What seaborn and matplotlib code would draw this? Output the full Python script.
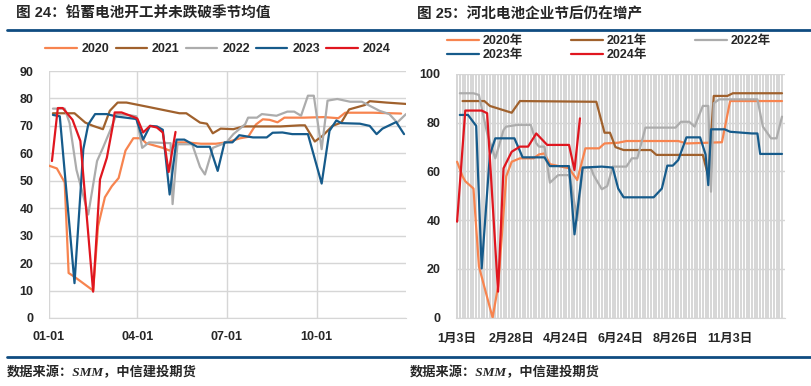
import numpy as np
import pandas as pd
import matplotlib.pyplot as plt
import seaborn as sns
from matplotlib.lines import Line2D

sns.set_style('white')
plt.rcParams['font.family'] = ['Liberation Sans', 'Noto Sans CJK SC', 'DejaVu Sans']
plt.rcParams['axes.unicode_minus'] = False

# ---- left chart: day of year vs operating rate (%) ----
day_2020 = [0, 8, 16, 20, 26, 45, 50, 57, 64, 71, 78, 86, 94, 99, 106, 116, 123, 131, 140, 155,
            170, 181, 195, 203, 211, 218, 225, 233, 240, 260, 280, 295, 302, 330, 359]
rate_2020 = [55.5, 54.5, 49.4, 16.4, 15, 10, 33.4, 44, 48, 51, 61, 65.5, 65.5, 63.7, 63, 62, 61, 64, 64, 63.5,
             63.5, 64, 65.5, 66, 70.5, 72.4, 72.2, 71.3, 73, 73, 73.2, 72.8, 74.8, 74.8, 74.5]

day_2021 = [4, 26, 37, 45, 55, 62, 70, 79, 100, 133, 140, 154, 161, 167, 175, 188, 198, 236, 256, 261,
            271, 279, 289, 298, 306, 322, 327, 344, 364]
rate_2021 = [74.6, 74.6, 71.2, 70, 68.8, 75.5, 78.5, 78.5, 77, 74.6, 74.6, 71.2, 70.8, 67.3, 69, 68.8, 69.8, 69.8, 70.2, 70.2,
             64.3, 66.4, 70, 71.2, 76, 77.6, 79, 78.5, 78]

day_2022 = [4, 16, 21, 28, 40, 49, 55, 62, 69, 80, 89, 95, 102, 124, 126, 131, 146, 154, 159, 167,
            181, 188, 200, 203, 212, 217, 232, 243, 250, 257, 264, 270, 278, 284, 294, 307, 319, 337, 347, 355, 364]
rate_2022 = [76.3, 76.3, 71, 54, 37.7, 57.2, 62, 68, 74.3, 74, 73.5, 62, 64, 63.7, 41.5, 63.3, 63.3, 55, 52.3, 62,
             64, 67, 70.6, 73, 73, 74.3, 73.7, 75.2, 75.2, 73.7, 81, 81, 61.5, 79.2, 79.8, 78.8, 78.8, 75.5, 74.3, 71.2, 74.3]

day_2023 = [4, 11, 26, 35, 40, 47, 59, 69, 85, 89, 96, 103, 110, 116, 123, 130, 138, 151, 164, 172,
            179, 187, 194, 208, 222, 228, 238, 248, 264, 278, 286, 293, 298, 317, 327, 334, 340, 354, 362]
rate_2023 = [74, 73.5, 12.7, 61.5, 70.5, 74.3, 74.3, 73.4, 72.7, 72.5, 65, 70, 69.8, 68.6, 45, 65, 65, 62.4, 62.4, 53.6,
             64, 64, 66.6, 65.8, 65.8, 67.5, 67.6, 67, 67, 49, 68.2, 72, 71, 70.8, 70, 67, 69, 71.4, 67]

day_2024 = [3, 9, 14, 24, 32, 45, 52, 59, 65, 67, 74, 83, 90, 96, 103, 110, 116, 122, 129]
rate_2024 = [57.2, 76.5, 76.5, 72.2, 64.5, 9.6, 50.5, 58.4, 70, 74.9, 74.9, 73.7, 72.7, 67.6, 70, 69.4, 67.6, 53.2, 67.8]

left_years = ['2020', '2021', '2022', '2023', '2024']
left_tick_days = [0, 90, 181, 273]
left_tick_labels = ['01-01', '04-01', '07-01', '10-01']

# ---- right chart: category index vs value ----
idx_2020 = [0, 2, 3, 6, 8, 13, 15, 18, 20, 23, 28, 30, 32, 34, 41, 44, 47, 52, 54, 59, 62, 81, 84, 97, 100, 119]
val_2020 = [64, 58, 56, 53, 21, 0, 12.7, 58, 64, 65.4, 65.4, 67, 67.4, 63, 61.3, 56.5, 69.5, 69.5, 71.5, 71.8,
            72.5, 72.5, 71.5, 72, 88.9, 88.9]

idx_2021 = [2, 10, 12, 20, 23, 51, 54, 56, 58, 61, 71, 73, 90, 92, 94, 99, 101, 119]
val_2021 = [88.9, 88.9, 86.9, 84.1, 88.9, 88.6, 75.9, 75.9, 70, 68.8, 68.8, 66.8, 66.8, 58, 91, 91, 92.1, 92.1]

idx_2022 = [1, 6, 8, 11, 14, 17, 18, 22, 27, 29, 30, 32, 34, 37, 41, 42, 44, 46, 49, 50,
            53, 55, 57, 62, 64, 66, 69, 80, 82, 85, 87, 90, 92, 93, 94, 96, 110, 112, 115, 117, 119]
val_2022 = [92.1, 92.1, 91.4, 75.7, 65.4, 77, 78.4, 79.1, 79.1, 71.6, 70.2, 70.2, 55.4, 58.5, 58.5, 53.7, 40, 61.6, 61.6, 58.5,
            52.7, 54, 62, 62, 65.4, 65.4, 78, 78, 80.4, 80.4, 78.4, 86.9, 86.9, 51.7, 88, 89.6, 89.6, 78.4, 73.6, 73.6, 82.5]

idx_2023 = [1, 4, 7, 9, 12, 14, 21, 24, 32, 34, 41, 43, 46, 53, 57, 59, 61, 72, 75, 77,
            79, 81, 84, 89, 91, 92, 93, 98, 100, 108, 110, 111, 119]
val_2023 = [83.2, 83.2, 78.7, 20.2, 66.8, 73.6, 73.6, 65.8, 65.8, 62.2, 62.2, 34.2, 61.6, 62, 61.6, 53, 49.4, 49.4, 53, 62.4,
            62.4, 64.7, 74, 74, 67, 54.4, 77.3, 77.3, 76.3, 75.6, 75.6, 67.2, 67.2]

idx_2024 = [0, 3, 9, 11, 15, 17, 20, 23, 26, 29, 33, 41, 43, 45]
val_2024 = [39.4, 85, 85, 83.9, 10.7, 61.3, 68.1, 70.2, 70.2, 75.6, 70.9, 70.9, 60.6, 81.8]

right_years = ['2020年', '2021年', '2022年', '2023年', '2024年']
right_tick_labels = ['1月3日', '2月28日', '4月24日', '6月24日', '8月26日', '11月3日']
n_categories = 120
label_step = 20

colors = ['#f7844f', '#a0612d', '#acacac', '#165b8b', '#e0161f']
grid_color = '#d6d6d6'
header_blue = '#0f4c81'

fig = plt.figure(figsize=(8.12, 3.86), dpi=100)

# ---------------- left panel ----------------
ax1 = fig.add_axes([49 / 812, 68 / 386, 357 / 812, 247 / 386])
left_x = [day_2020, day_2021, day_2022, day_2023, day_2024]
left_y = [rate_2020, rate_2021, rate_2022, rate_2023, rate_2024]
for x, y, c, lab in zip(left_x, left_y, colors, left_years):
    sns.lineplot(x=x, y=y, ax=ax1, color=c, linewidth=1.6, label=lab,
                 estimator=None, errorbar=None, sort=False)

ax1.set_xlim(0, 364)
ax1.set_ylim(0, 90)
ax1.set_yticks(range(0, 91, 10))
ax1.set_xticks(left_tick_days)
ax1.set_xticklabels(left_tick_labels)
ax1.grid(True, axis='both', color=grid_color, linewidth=1.0)
for s in ['top', 'right', 'left']:
    ax1.spines[s].set_visible(False)
ax1.spines['bottom'].set_color(grid_color)
ax1.tick_params(axis='y', length=0, pad=11, labelsize=9)
ax1.tick_params(axis='x', length=4, color=grid_color, pad=5, labelsize=9)
for t in ax1.get_xticklabels() + ax1.get_yticklabels():
    t.set_fontweight('bold')
ax1.legend(loc='center', bbox_to_anchor=(218 / 812, 1 - 49 / 386), bbox_transform=fig.transFigure,
           ncol=5, frameon=False, handlelength=2.5, handletextpad=0.4, columnspacing=0.5,
           prop={'weight': 'bold', 'size': 9})

# ---------------- right panel ----------------
ax2 = fig.add_axes([456 / 812, 68.3 / 386, 329 / 812, 243.7 / 386])
right_x = [idx_2020, idx_2021, idx_2022, idx_2023, idx_2024]
right_y = [val_2020, val_2021, val_2022, val_2023, val_2024]
for x, y, c, lab in zip(right_x, right_y, colors, right_years):
    sns.lineplot(x=x, y=y, ax=ax2, color=c, linewidth=1.6, label=lab,
                 estimator=None, errorbar=None, sort=False)

ax2.set_xlim(-0.4, n_categories + 0.1)
ax2.set_ylim(0, 100)
ax2.set_yticks(range(0, 101, 20))
ax2.set_xticks(range(0, label_step * len(right_tick_labels), label_step))
ax2.set_xticklabels(right_tick_labels)
ax2.set_xticks(range(n_categories), minor=True)
ax2.grid(True, axis='x', which='both', color='#cfcfcf', linewidth=1.2)
ax2.grid(True, axis='y', which='major', color=grid_color, linewidth=1.0)
ax2.set_axisbelow(True)
for s in ['top', 'right', 'left']:
    ax2.spines[s].set_visible(False)
ax2.spines['bottom'].set_color(grid_color)
ax2.tick_params(axis='y', length=0, pad=11, labelsize=9)
ax2.tick_params(axis='x', which='both', length=3, color='#cfcfcf', pad=8, labelsize=9)
for t in ax2.get_xticklabels() + ax2.get_yticklabels():
    t.set_fontweight('bold')

# legend filled row by row: 2020 2021 2022 / 2023 2024
h, l = ax2.get_legend_handles_labels()
order = [0, 3, 1, 4, 2]
ax2.legend([h[i] for i in order], [l[i] for i in order], loc='center',
           bbox_to_anchor=(609 / 812, 1 - 48 / 386), bbox_transform=fig.transFigure,
           ncol=3, frameon=False, handlelength=2.6, handletextpad=0.3, columnspacing=3.8,
           labelspacing=0.15, prop={'weight': 'bold', 'size': 9})

# ---------------- titles, rules and source ----------------
fig.text(16 / 812, 1 - 14 / 386, '图 24：铅蓄电池开工并未跌破季节均值', fontsize=10.5,
         fontweight='bold', va='center', ha='left')
fig.text(417 / 812, 1 - 14 / 386, '图 25：河北电池企业节后仍在增产', fontsize=10.5,
         fontweight='bold', va='center', ha='left')
fig.add_artist(Line2D([7 / 812, 1], [1 - 30 / 386] * 2, color=header_blue, linewidth=2.0))
fig.add_artist(Line2D([7 / 812, 1], [1 - 357 / 386] * 2, color=header_blue, linewidth=2.0))
src_font = {'family': ['Liberation Serif', 'Noto Sans CJK SC'], 'style': 'italic', 'size': 9.5, 'weight': 'bold'}
fig.text(7 / 812, 1 - 372 / 386, '数据来源：SMM，中信建投期货', va='center', ha='left', fontdict=src_font)
fig.text(410 / 812, 1 - 372 / 386, '数据来源：SMM，中信建投期货', va='center', ha='left', fontdict=src_font)

fig.savefig('out.png', dpi=100)
